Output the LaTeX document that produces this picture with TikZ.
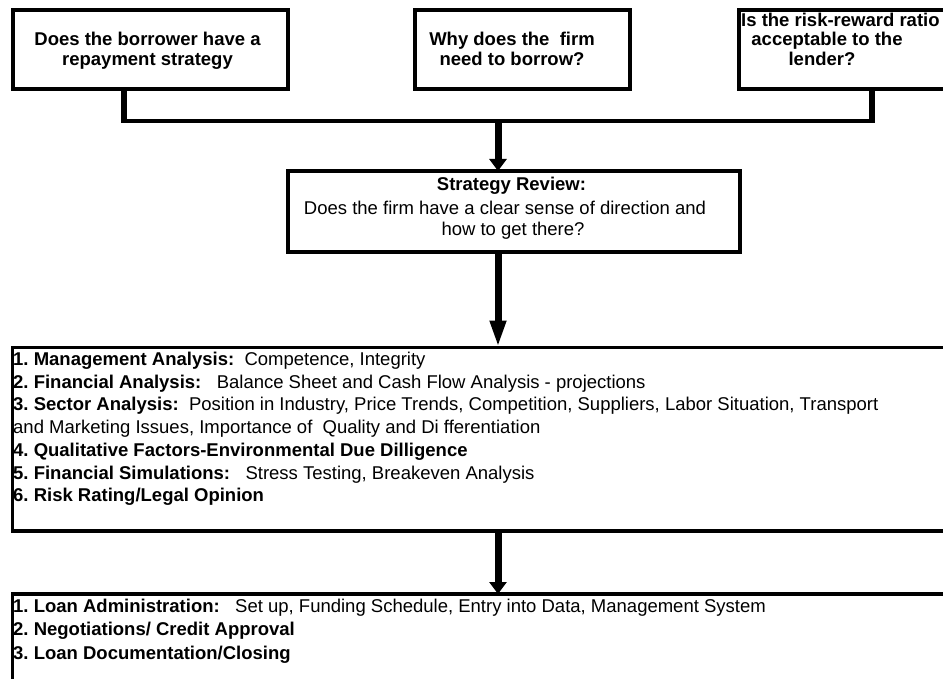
\documentclass[tikz,border=0pt]{standalone}
\usepackage{fontspec}
\setmainfont{Liberation Sans}
\usetikzlibrary{calc, arrows.meta}
\frenchspacing

\begin{document}
\begin{tikzpicture}[x=1pt, y=-1pt,
        frame/.style={draw=black, line width=4pt, inner sep=0pt, outer sep=0pt, anchor=north west},
        listframe/.style={frame, line width=3.5pt},
        qtext/.style={inner sep=0pt, anchor=base, font=\fontsize{18.5}{20}\selectfont\bfseries},
        rtext/.style={inner sep=0pt, anchor=base, font=\fontsize{18.5}{22}\selectfont},
        itemtext/.style={inner sep=0pt, anchor=base west, font=\fontsize{18.5}{22}\selectfont},
        bus/.style={black, line width=4pt},
        stub/.style={black, line width=6pt},
        flow/.style={black, line width=7pt, -{Triangle[width=17pt, length=12pt]}}]

            \useasboundingbox (0, 0) rectangle (943, 679);
            \clip (0, 0) rectangle (943, 679);

            % the three questions
            \node[frame, minimum width=275pt, minimum height=79pt] (borrower) at (13, 10) {};
            \node[qtext] (borrowerA) at (147.5, 45.7) {Does the borrower have a};
            \node[qtext] (borrowerB) at (147.5, 65.7) {repayment strategy};

            \node[frame, minimum width=215pt, minimum height=79pt] (firm) at (415, 10) {};
            \node[qtext] (firmA) at (512, 45.7) {Why does the\ \ firm};
            \node[qtext] (firmB) at (512, 65.7) {need to borrow?};

            \node[frame, minimum width=260pt, minimum height=79pt] (risk) at (739, 10) {};
            \node[qtext, anchor=base west] (riskA) at (741, 26.7) {Is the risk-reward ratio};
            \node[qtext] (riskB) at (827, 46) {acceptable to the};
            \node[qtext] (riskC) at (822, 65.3) {lender?};

            % strategy review
            \node[frame, minimum width=452pt, minimum height=81pt] (strategy) at (287.5, 171) {};
            \node[qtext] (strategyA) at (511.5, 191) {Strategy Review:};
            \node[rtext] (strategyB) at (505, 214.5) {Does the firm have a clear sense of direction and};
            \node[rtext] (strategyC) at (513, 236) {how to get there?};

            % analysis list
            \node[listframe, minimum width=960pt, minimum height=183.5pt] (analysis) at (12.5, 347.5) {};
            \foreach \txt [count=\i] in {
                {\textbf{1. Management Analysis:}\ \ Competence, Integrity},
                {\textbf{2. Financial Analysis:}\ \ \ Balance Sheet and Cash Flow Analysis - projections},
                {\textbf{3. Sector Analysis:}\ \ Position in Industry, Price Trends, Competition, Suppliers, Labor Situation, Transport},
                {and Marketing Issues, Importance of\ \ Quality and Di fferentiation},
                {\textbf{4. Qualitative Factors-Environmental Due Dilligence}},
                {\textbf{5. Financial Simulations:}\ \ \ Stress Testing, Breakeven Analysis},
                {\textbf{6. Risk Rating/Legal Opinion}}} {
                \node[itemtext] (analysis\i) at (13, {365.5 + 22.7 * (\i - 1)}) {\txt};
            }

            % loan list
            \node[listframe, minimum width=960pt, minimum height=120pt] (loan) at (12.5, 594) {};
            \foreach \txt [count=\i] in {
                {\textbf{1. Loan Administration:}\ \ \ Set up, Funding Schedule, Entry into Data, Management System},
                {\textbf{2. Negotiations/ Credit Approval}},
                {\textbf{3. Loan Documentation/Closing}}} {
                \node[itemtext] (loan\i) at (13, {612 + 23.5 * (\i - 1)}) {\txt};
            }

            % connectors
            \coordinate (busleft) at (124, 121);
            \coordinate (busright) at (872, 121);
            \coordinate (busmid) at (498, 121);

            \draw[stub] (borrower.south -| busleft) -- (busleft);
            \draw[stub] (risk.south -| busright) -- (busright);
            \draw[bus] ([xshift=-3pt]busleft) -- ([xshift=3pt]busright);

            \draw[flow] (busmid) -- (busmid |- strategy.north);
            \draw[flow, -{Triangle[width=15pt, length=27pt]}] (strategy.south -| busmid) -- (busmid |- analysis.north);
            \draw[flow] (analysis.south -| busmid) -- (busmid |- loan.north);

\end{tikzpicture}
\end{document}
